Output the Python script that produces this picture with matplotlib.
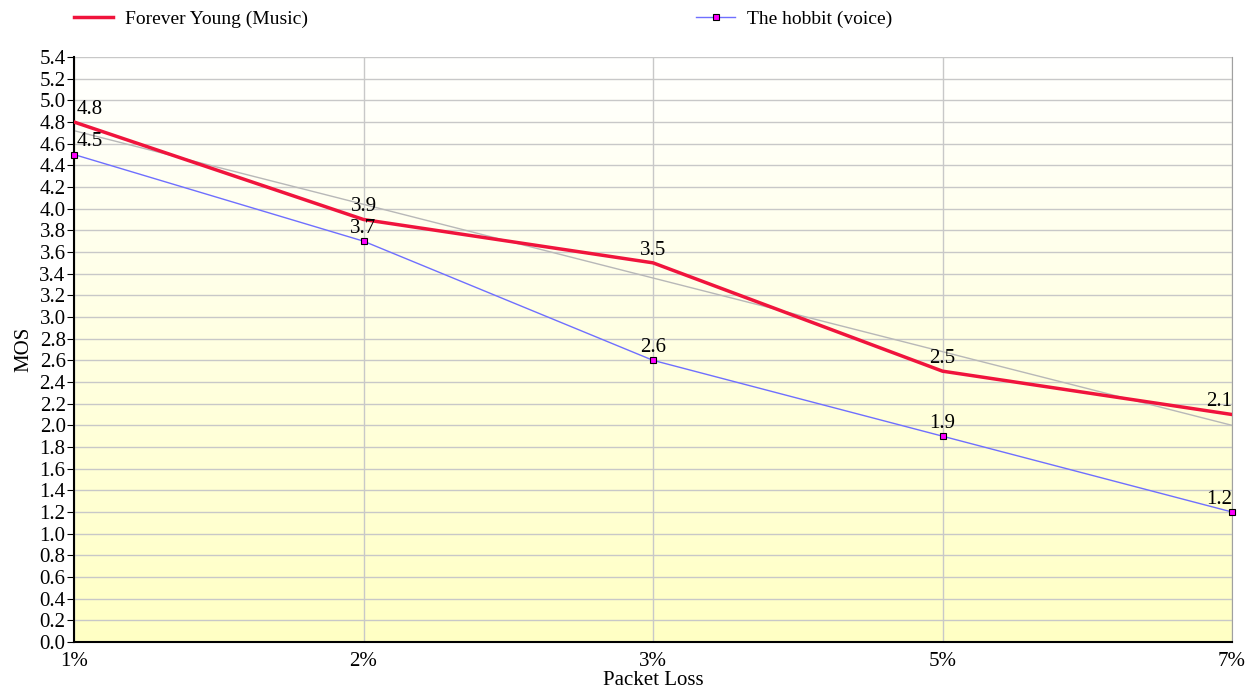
import numpy as np
import matplotlib.pyplot as plt
from matplotlib.colors import LinearSegmentedColormap
from matplotlib.lines import Line2D

plt.rcParams['font.family'] = ['Liberation Serif', 'DejaVu Serif']

loss = ['1%', '2%', '3%', '5%', '7%']
music = [4.8, 3.9, 3.5, 2.5, 2.1]
voice = [4.5, 3.7, 2.6, 1.9, 1.2]

x = np.arange(len(loss))

fig = plt.figure(figsize=(12.55, 6.97), dpi=100)
ax = fig.add_axes([74/1255, 1 - 642/697, (1232-74)/1255, (642-57)/697])

# background gradient white -> pale yellow
cmap = LinearSegmentedColormap.from_list('bg', ['#ffffc4', '#ffffff'])
grad = np.linspace(0, 1, 256).reshape(-1, 1)
ax.imshow(grad, cmap=cmap, aspect='auto', origin='lower',
          extent=[0, len(loss) - 1, 0, 5.4], zorder=0)

ax.set_xlim(0, len(loss) - 1)
ax.set_ylim(0, 5.4)
ax.set_yticks(np.arange(0, 5.41, 0.2))
ax.set_yticklabels([f'{v:.1f}' for v in np.arange(0, 5.41, 0.2)])
ax.set_xticks(x)
ax.set_xticklabels(loss)
ax.grid(True, color='#c8c8c8', lw=1, zorder=1)

# trend line for music series
k, b = np.polyfit(x, music, 1)
ax.plot(x[[0, -1]], k * x[[0, -1]] + b, color='#b8b8b8', lw=1, zorder=2)

ax.plot(x, music, color='#f0143c', lw=2.5, zorder=3)
ax.plot(x, voice, color='#6f6fff', lw=1, marker='s', ms=5,
        mfc='#ff00ff', mec='black', mew=0.8, zorder=4, clip_on=False)

for series in (music, voice):
    for i, v in enumerate(series):
        ha = 'left' if i == 0 else ('right' if i == len(x) - 1 else 'center')
        dx = 0.01 if i == 0 else 0
        ax.text(x[i] + dx, v + 0.03, f'{v}', ha=ha, va='bottom',
                fontsize=15, zorder=5)

for s in ['left', 'bottom']:
    ax.spines[s].set_color('black')
    ax.spines[s].set_linewidth(1.5)
ax.spines['right'].set_color('#a0a0a0')
ax.spines['top'].set_visible(False)
ax.tick_params(axis='both', labelsize=15, length=5, color='black', pad=1)
ax.tick_params(axis='x', length=0, pad=7)

ax.set_ylabel('MOS', fontsize=15, labelpad=4)
ax.set_xlabel('Packet Loss', fontsize=15, labelpad=0)

handles = [Line2D([], [], color='#f0143c', lw=2.5),
           Line2D([], [], color='#6f6fff', lw=1, marker='s', ms=5,
                  mfc='#ff00ff', mec='black', mew=0.8)]
fig.legend(handles, ['Forever Young (Music)', 'The hobbit (voice)'],
           loc='upper left', bbox_to_anchor=(0.045, 1.01), ncol=2,
           frameon=False, fontsize=14, columnspacing=20.0, handlelength=2.0,
           handletextpad=0.6)

fig.savefig('out.png', dpi=100)
